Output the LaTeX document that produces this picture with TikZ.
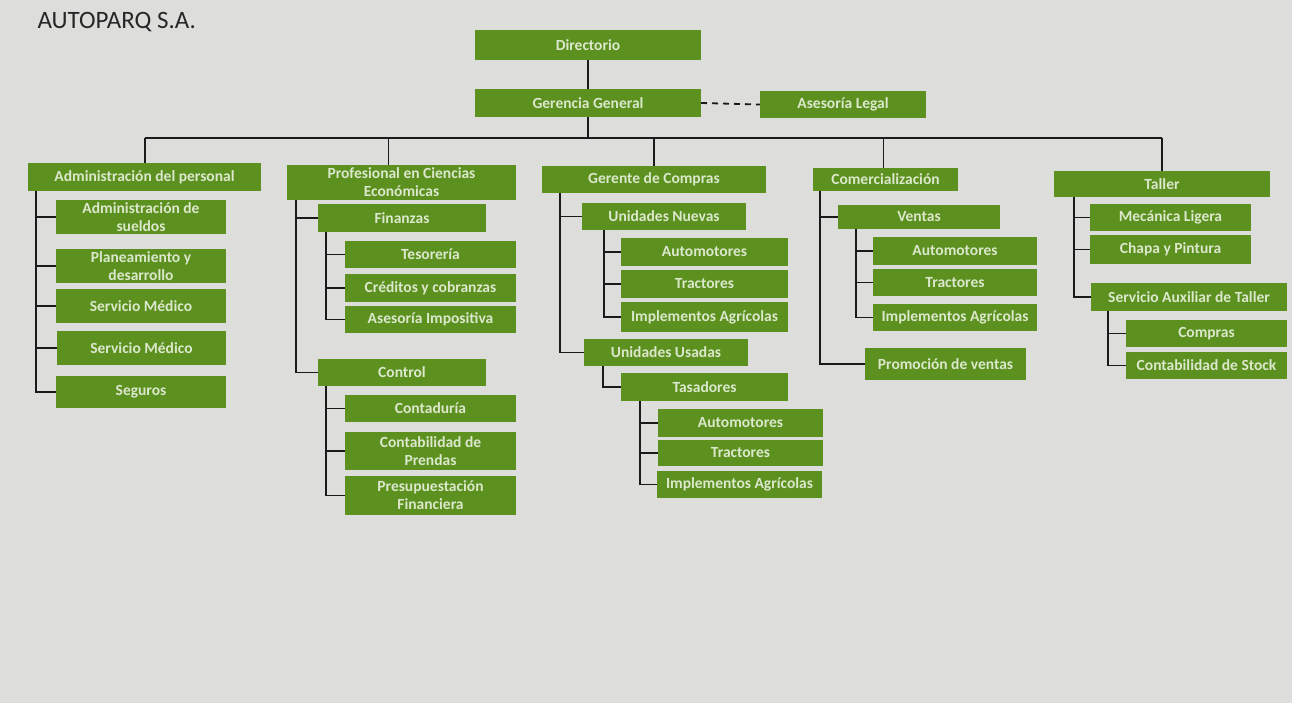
\documentclass[tikz,border=0pt]{standalone}
\usepackage{fontspec}
\setmainfont{Carlito}
\definecolor{boxgreen}{HTML}{5C901F}
\definecolor{boxtext}{HTML}{DCE8CC}
\definecolor{bg}{HTML}{DDDDDB}
\definecolor{linec}{HTML}{1A1A1A}
\tikzset{
  box/.style={fill=boxgreen, draw=none, inner sep=0pt, outer sep=0pt, align=center,
    text=boxtext, font=\fontsize{15.5}{18}\selectfont\bfseries},
  conn/.style={draw=linec, line width=1.8pt},
  dashconn/.style={draw=linec, line width=1.8pt, dashed, dash pattern=on 6pt off 5pt}
}
\newcommand\bx[6]{\node[box, minimum width={(#4-#2)*1pt}, minimum height={(#5-#3)*1pt}] (#1) at ({(#2+#4)/2},{(#3+#5)/2}) {#6};}
\begin{document}
\begin{tikzpicture}[x=1pt,y=-1pt]
\fill[bg] (0,0) rectangle (1292,703);
\useasboundingbox (0,0) rectangle (1292,703);
\node[anchor=west, font=\fontsize{25}{29}\selectfont, text=black!85] (title) at (34,22) {AUTOPARQ S.A.};

% top
\bx{dir}{475}{30}{701}{60}{Directorio}
\bx{gg}{475}{89}{701}{117}{Gerencia General}
\bx{legal}{760}{91}{926}{118}{Asesoría Legal}
\draw[conn] (dir) -- (gg);
\draw[dashconn] (gg.east) -- (legal.west);

% level 1
\bx{adm}{28}{163}{261}{191}{Administración del personal}
\bx{prof}{287}{165}{516}{200}{Profesional en Ciencias\\Económicas}
\bx{gc}{542}{166}{766}{193}{Gerente de Compras}
\bx{com}{813}{168}{958}{191}{Comercialización}
\bx{tal}{1054}{171}{1270}{197}{Taller}

\coordinate (busL) at (145,138);
\coordinate (busR) at (1162,138);
\draw[conn] (busL) -- (busR);
\draw[conn] (gg.south) -- (gg.south |- busL);
\draw[conn] (adm.north -| busL) -- (busL);
\draw[conn] ([xshift=-13pt]prof.north) -- ([xshift=-13pt]prof.north |- busL);
\draw[conn] (gc.north) -- (gc.north |- busL);
\draw[conn] ([xshift=-2pt]com.north) -- ([xshift=-2pt]com.north |- busL);
\draw[conn] (tal.north -| busR) -- (busR);

% Administración del personal
\bx{a1}{56}{200}{226}{234}{Administración de\\sueldos}
\bx{a2}{56}{249}{226}{283}{Planeamiento y\\desarrollo}
\bx{a3}{56}{289}{226}{323}{Servicio Médico}
\bx{a4}{57}{331}{226}{365}{Servicio Médico}
\bx{a5}{56}{376}{226}{408}{Seguros}
\foreach \c in {a1,a2,a3,a4,a5}
  \draw[conn] ([xshift=8pt]adm.south west) |- (\c.west);

% Profesional
\bx{fin}{318}{204}{486}{232}{Finanzas}
\bx{f1}{345}{241}{516}{268}{Tesorería}
\bx{f2}{345}{274}{516}{302}{Créditos y cobranzas}
\bx{f3}{345}{306}{516}{333}{Asesoría Impositiva}
\bx{ctl}{318}{359}{486}{386}{Control}
\bx{c1}{345}{395}{516}{422}{Contaduría}
\bx{c2}{345}{432}{516}{470}{Contabilidad de\\Prendas}
\bx{c3}{345}{476}{516}{515}{Presupuestación\\Financiera}
\foreach \c in {fin,ctl}
  \draw[conn] ([xshift=9pt]prof.south west) |- (\c.west);
\foreach \c in {f1,f2,f3}
  \draw[conn] ([xshift=8pt]fin.south west) |- (\c.west);
\foreach \c in {c1,c2,c3}
  \draw[conn] ([xshift=8pt]ctl.south west) |- (\c.west);

% Gerente de Compras
\bx{un}{582}{203}{746}{230}{Unidades Nuevas}
\bx{n1}{621}{238}{788}{266}{Automotores}
\bx{n2}{621}{270}{788}{298}{Tractores}
\bx{n3}{621}{302}{788}{332}{Implementos Agrícolas}
\bx{uu}{584}{339}{748}{366}{Unidades Usadas}
\bx{tas}{621}{373}{788}{401}{Tasadores}
\bx{t1}{658}{409}{823}{437}{Automotores}
\bx{t2}{658}{440}{823}{466}{Tractores}
\bx{t3}{657}{471}{822}{498}{Implementos Agrícolas}
\foreach \c in {un,uu}
  \draw[conn] ([xshift=18pt]gc.south west) |- (\c.west);
\foreach \c in {n1,n2,n3}
  \draw[conn] ([xshift=22pt]un.south west) |- (\c.west);
\draw[conn] ([xshift=19pt]uu.south west) |- (tas.west);
\foreach \c in {t1,t2,t3}
  \draw[conn] ([xshift=19pt]tas.south west) |- (\c.west);

% Comercialización
\bx{ven}{838}{205}{1000}{229}{Ventas}
\bx{v1}{873}{237}{1037}{265}{Automotores}
\bx{v2}{873}{269}{1037}{296}{Tractores}
\bx{v3}{873}{304}{1037}{331}{Implementos Agrícolas}
\bx{prom}{865}{348}{1026}{380}{Promoción de ventas}
\foreach \c in {ven,prom}
  \draw[conn] ([xshift=7pt]com.south west) |- (\c.west);
\foreach \c in {v1,v2,v3}
  \draw[conn] ([xshift=18pt]ven.south west) |- (\c.west);

% Taller
\bx{mec}{1090}{204}{1251}{231}{Mecánica Ligera}
\bx{cha}{1090}{235}{1251}{264}{Chapa y Pintura}
\bx{sat}{1091}{283}{1287}{311}{Servicio Auxiliar de Taller}
\bx{s1}{1126}{320}{1287}{347}{Compras}
\bx{s2}{1126}{352}{1287}{379}{Contabilidad de Stock}
\foreach \c in {mec,cha,sat}
  \draw[conn] ([xshift=20pt]tal.south west) |- (\c.west);
\foreach \c in {s1,s2}
  \draw[conn] ([xshift=17pt]sat.south west) |- (\c.west);
\end{tikzpicture}
\end{document}
